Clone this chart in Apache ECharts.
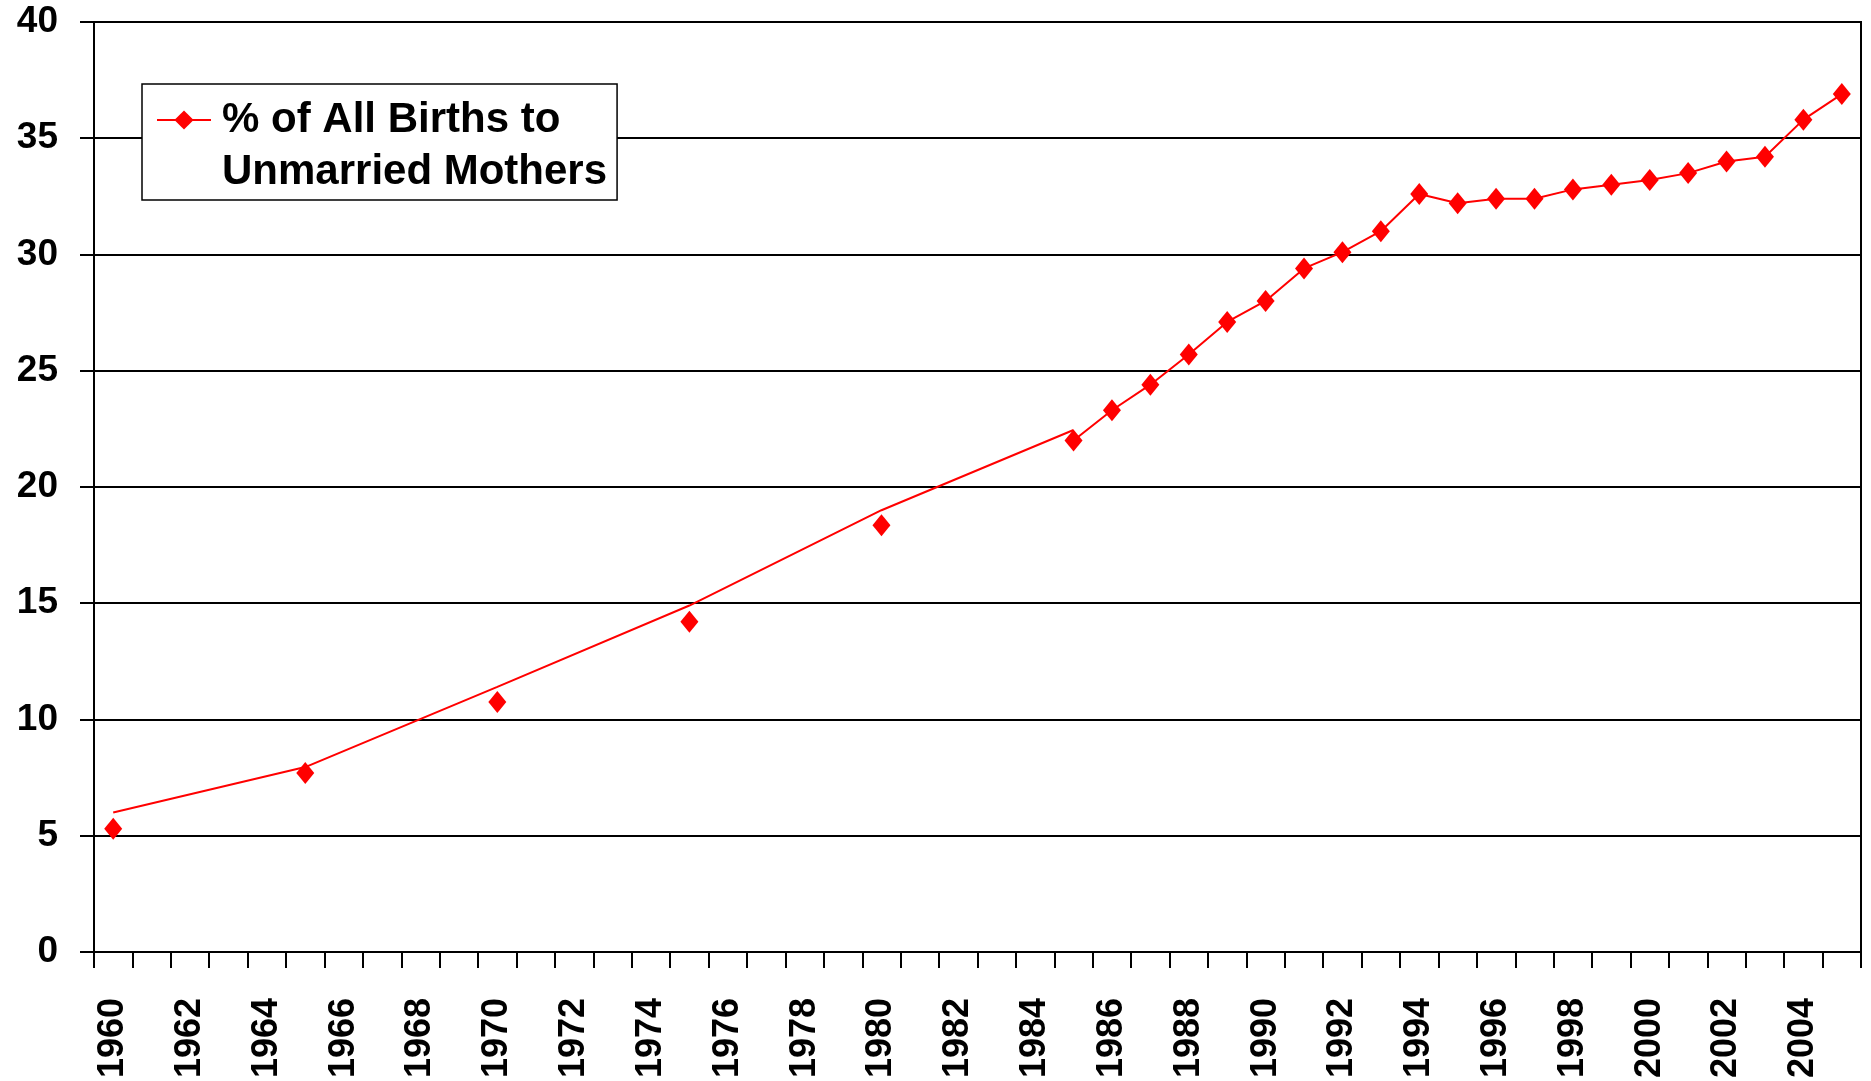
<!DOCTYPE html>
<html>
<head>
<meta charset="utf-8">
<title>% of All Births to Unmarried Mothers</title>
<script src="https://cdn.jsdelivr.net/npm/echarts@6/dist/echarts.min.js"></script>
<style>
    html, body {margin: 0; padding: 0; background: #fff;}
    #main {width: 1871px; height: 1081px;}
</style>
</head>
<body>
<div id="main"></div>
<script>
// 横轴年份 1960-2005
var years = ['1960','1961','1962','1963','1964','1965','1966','1967','1968','1969',
             '1970','1971','1972','1973','1974','1975','1976','1977','1978','1979',
             '1980','1981','1982','1983','1984','1985','1986','1987','1988','1989',
             '1990','1991','1992','1993','1994','1995','1996','1997','1998','1999',
             '2000','2001','2002','2003','2004','2005'];

// 早期只有每5年一个点 (菱形)
var earlyYears = ['1960','1965','1970','1975','1980'];
var earlyValues = [5.3, 7.7, 10.75, 14.2, 18.35];

// 早期那条折线并不经过菱形点，单独一组数
var trendYears = ['1960','1965','1970','1975','1980','1985'];
var trendValues = [6.0, 7.95, 11.4, 14.9, 19.0, 22.45];

// 1985以后逐年
var recentYears = ['1985','1986','1987','1988','1989','1990','1991','1992','1993','1994',
                   '1995','1996','1997','1998','1999','2000','2001','2002','2003','2004','2005'];
var recentValues = [22.0, 23.3, 24.4, 25.7, 27.1, 28.0, 29.4, 30.1, 31.0, 32.6,
                    32.2, 32.4, 32.4, 32.8, 33.0, 33.2, 33.5, 34.0, 34.2, 35.8, 36.9];

var yTicks = [0, 5, 10, 15, 20, 25, 30, 35, 40];

var seriesName = '% of All Births to Unmarried Mothers';
var legendLines = ['% of All Births to', 'Unmarried Mothers'];
var red = '#ff0000';
var font = '"Liberation Sans", Arial, sans-serif';

function pairs(xs, vs) {
    var out = [];
    for (var i = 0; i < xs.length; i++) {
        out.push([xs[i], vs[i]]);
    }
    return out;
}

var myChart = echarts.init(document.getElementById('main'));
var option;

option = {
    animation: false,
    backgroundColor: '#fff',
    textStyle: {fontFamily: font},
    grid: {
        left: 94,
        right: 10,
        top: 22,
        bottom: 126,
        show: true,
        borderColor: '#000',
        borderWidth: 2
    },
    legend: {
        data: [seriesName],
        left: 142,
        top: 84,
        orient: 'vertical',
        backgroundColor: '#fff',
        borderColor: '#000',
        borderWidth: 1.5,
        borderRadius: 0,
        // 第一行留空, 让图标和第一行字对齐, 再用负的上边距把空行裁掉
        padding: [-42, 10, 2, 14],
        itemWidth: 54,
        itemHeight: 24,
        itemGap: 0,
        selectedMode: false,
        formatter: function () {
            return '{b| }\n{t|' + legendLines[0] + '}\n{t|' + legendLines[1] + '}';
        },
        textStyle: {
            fontFamily: font,
            fontWeight: 'bold',
            fontSize: 42,
            color: '#000',
            lineHeight: 52,
            rich: {
                b: {fontSize: 42, lineHeight: 52},
                t: {
                    fontFamily: font,
                    fontWeight: 'bold',
                    fontSize: 42,
                    lineHeight: 52,
                    color: '#000',
                    padding: [0, 0, 0, 6]
                }
            }
        }
    },
    xAxis: {
        type: 'category',
        data: years,
        boundaryGap: true,
        axisLine: {lineStyle: {color: '#000', width: 2}},
        axisTick: {show: true, interval: 0, length: 16, lineStyle: {color: '#000', width: 2}},
        axisLabel: {
            interval: 1,
            rotate: 90,
            margin: 46,
            color: '#000',
            fontFamily: font,
            fontWeight: 'bold',
            fontSize: 36
        },
        splitLine: {show: false}
    },
    yAxis: {
        type: 'value',
        min: yTicks[0],
        max: yTicks[yTicks.length - 1],
        interval: 5,
        axisLine: {show: true, lineStyle: {color: '#000', width: 2}},
        axisTick: {show: true, length: 14, lineStyle: {color: '#000', width: 2}},
        axisLabel: {
            margin: 36,
            color: '#000',
            fontFamily: font,
            fontWeight: 'bold',
            fontSize: 37
        },
        splitLine: {show: true, lineStyle: {color: '#000', width: 2}}
    },
    series: [
        {
            name: 'trend',
            type: 'line',
            data: pairs(trendYears, trendValues),
            showSymbol: false,
            lineStyle: {color: red, width: 2},
            z: 3
        },
        {
            name: 'early',
            type: 'scatter',
            data: pairs(earlyYears, earlyValues),
            symbol: 'diamond',
            symbolSize: [18, 22],
            itemStyle: {color: red, opacity: 1},
            z: 4
        },
        {
            name: seriesName,
            type: 'line',
            data: pairs(recentYears, recentValues),
            symbol: 'diamond',
            symbolSize: [18, 22],
            showAllSymbol: true,
            lineStyle: {color: red, width: 2},
            itemStyle: {color: red, opacity: 1},
            z: 4
        }
    ]
};

// 使用刚指定的配置项和数据显示图表。
myChart.setOption(option);
</script>
</body>
</html>
